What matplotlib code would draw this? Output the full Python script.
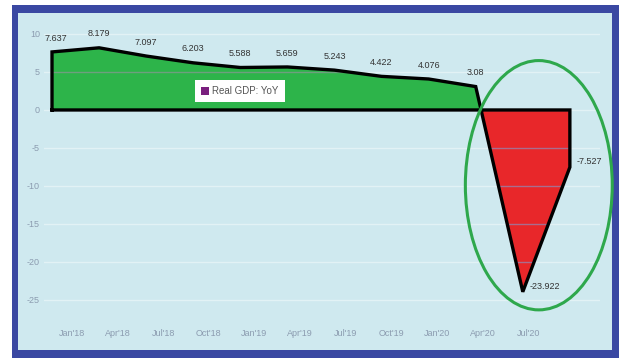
import numpy as np
import matplotlib.pyplot as plt
from matplotlib.patches import Rectangle, Ellipse, Patch

plt.rcParams['font.family'] = ['Liberation Sans Narrow', 'Liberation Sans', 'DejaVu Sans']

# ═══ Data ═════════════════════════════════════════════════════════════════

gdp_yoy = [7.637, 8.179, 7.097, 6.203, 5.588, 5.659, 5.243, 4.422, 4.076, 3.08, -23.922, -7.527]
value_labels = ['7.637', '8.179', '7.097', '6.203', '5.588', '5.659', '5.243', '4.422', '4.076', '3.08', '-23.922', '-7.527']
quarters = ["Jan'18", "Apr'18", "Jul'18", "Oct'18", "Jan'19", "Apr'19",
            "Jul'19", "Oct'19", "Jan'20", "Apr'20", "Jul'20"]
y_ticks = [10, 5, 0, -5, -10, -15, -20, -25]

# ═══ Style ════════════════════════════════════════════════════════════════

W, H = 619, 358
c_frame = '#3a48a2'
c_bg = '#cfe9ef'
c_green = '#2db44a'
c_red = '#e8272a'
c_purple = '#7a1f7e'
c_tick = '#8c9cb0'

fig = plt.figure(figsize=(W/100, H/100), dpi=100)
fig.patch.set_facecolor('white')

def px_box(x0, y0, x1, y1):
    return (x0/W, 1 - y1/H, (x1 - x0)/W, (y1 - y0)/H)

# blue frame with light panel inside
b = px_box(12, 5, 619, 358)
fig.patches.append(Rectangle(b[:2], b[2], b[3], transform=fig.transFigure,
                             facecolor=c_frame, edgecolor='none', zorder=-10))
b = px_box(18, 13, 612, 350)
fig.patches.append(Rectangle(b[:2], b[2], b[3], transform=fig.transFigure,
                             facecolor=c_bg, edgecolor='none', zorder=-9))

ax = fig.add_axes(px_box(44, 25, 600, 318))
ax.set_facecolor('none')

x = np.arange(len(gdp_yoy))
y = np.array(gdp_yoy)

# ─── Grid behind
for v in y_ticks:
    ax.axhline(v, color='#e2f2f5', lw=1, zorder=1)

# ─── Area fills
pos = ax.fill_between(x, y, 0, where=y >= 0, interpolate=True, color=c_green, lw=0, zorder=2)
neg = ax.fill_between(x, y, 0, where=y <= 0, interpolate=True, color=c_red, lw=0, zorder=2)

# gridlines showing through the filled areas
for poly, col in ((pos, '#7f9a8c'), (neg, '#9a7fa8')):
    for v in y_ticks:
        ln = ax.axhline(v, color=col, lw=1, alpha=0.8, zorder=3)
        ln.set_clip_path(poly.get_paths()[0], poly.get_transform())

# ─── Outline
ox = np.concatenate([[x[0]], x, [x[-1], x[0]]])
oy = np.concatenate([[0], y, [0, 0]])
ax.plot(ox, oy, color='black', lw=2.4, solid_joinstyle='miter', zorder=4)

# ─── Value labels
for xi, yi, lab in zip(x, y, value_labels):
    if yi >= 0:
        dx = 3 if xi == 0 else 0
        ax.annotate(lab, (xi, yi), xytext=(dx, 10), textcoords='offset points',
                    ha='center', va='center', fontsize=6.5, color='#333333', zorder=5)
    else:
        ax.annotate(lab, (xi, yi), xytext=(5, 4), textcoords='offset points',
                    ha='left', va='center', fontsize=6.5, color='#333333', zorder=5)

# ─── Highlight ring round the slump
ax.add_patch(Ellipse((10.34, -9.9), 3.12, 32.8, facecolor='none',
                     edgecolor='#2ea84c', lw=2.2, clip_on=False, zorder=6))

# ─── Legend
leg = ax.legend(handles=[Patch(facecolor=c_purple, label='Real GDP: YoY')],
                loc='center', bbox_to_anchor=(0.352, 0.775), fontsize=7,
                frameon=True, fancybox=False, handlelength=0.9, handleheight=0.9,
                handletextpad=0.3, borderpad=0.6, borderaxespad=0)
leg.get_frame().set_facecolor('white')
leg.get_frame().set_edgecolor('none')
leg.get_frame().set_alpha(1)
leg.set_zorder(5)
for t in leg.get_texts():
    t.set_color('#555555')

# ─── Axes
ax.set_xlim(-0.17, 11.64)
ax.set_ylim(-27.37, 11.18)
ax.set_yticks(y_ticks)
ax.set_yticklabels([str(v) for v in y_ticks])
ax.set_xticks(0.42 + 0.97*np.arange(len(quarters)))
ax.set_xticklabels(quarters)
ax.tick_params(axis='both', length=0, labelsize=6.5, labelcolor=c_tick)
ax.tick_params(axis='x', pad=8)
ax.tick_params(axis='y', pad=3)
for s in ax.spines.values():
    s.set_visible(False)

fig.savefig('out.png', dpi=100)
